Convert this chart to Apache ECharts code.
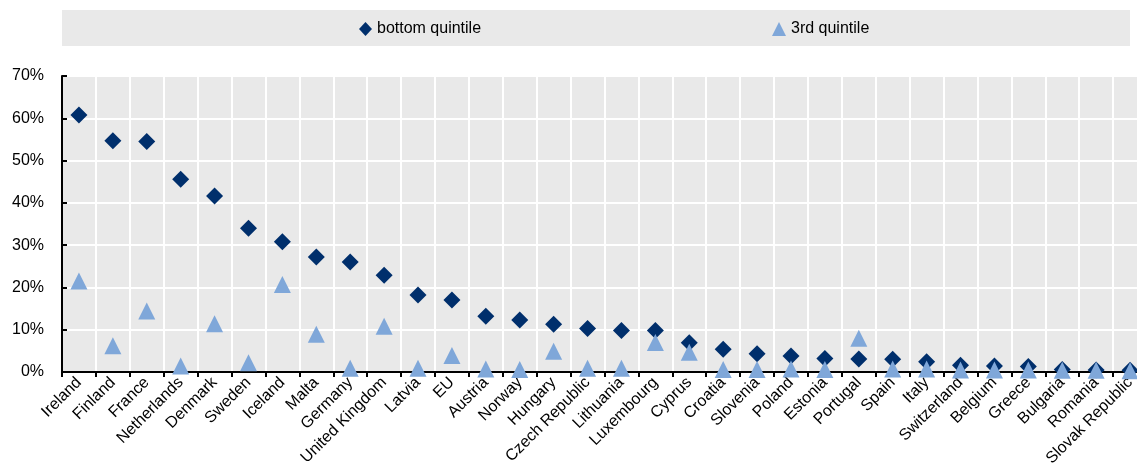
<!DOCTYPE html>
<html>
<head>
<meta charset="utf-8">
<script src="https://cdn.jsdelivr.net/npm/echarts@6/dist/echarts.min.js"></script>
<style>html,body{margin:0;padding:0;background:#fff;}#c{width:1137px;height:470px;}</style>
</head>
<body>
<div id="c"></div>
<script>
const categories = ["Ireland","Finland","France","Netherlands","Denmark","Sweden","Iceland","Malta","Germany","United Kingdom","Latvia","EU","Austria","Norway","Hungary","Czech Republic","Lithuania","Luxembourg","Cyprus","Croatia","Slovenia","Poland","Estonia","Portugal","Spain","Italy","Switzerland","Belgium","Greece","Bulgaria","Romania","Slovak Republic"];
const bottomQuintile = [60.8,54.7,54.5,45.6,41.6,34.0,30.8,27.2,26.0,22.9,18.2,17.0,13.2,12.3,11.3,10.3,9.8,9.8,6.9,5.4,4.3,3.8,3.2,3.1,3.0,2.4,1.6,1.4,1.3,0.6,0.5,0.4];
const thirdQuintile = [21.5,6.2,14.4,1.4,11.4,2.2,20.7,8.9,0.9,10.8,0.9,3.9,0.7,0.6,4.9,0.9,0.9,7.0,4.7,0.6,0.6,0.7,0.6,8.0,0.7,0.7,0.5,0.5,0.5,0.4,0.4,0.3];
const yTicks = {min:0, max:70, interval:10};
const seriesNames = ["bottom quintile","3rd quintile"];

const chart = echarts.init(document.getElementById('c'));
const font = '"Liberation Sans", Arial, sans-serif';
chart.setOption({
  animation:false,
  graphic:[{type:'rect', left:62, top:10, shape:{width:1068,height:36}, style:{fill:'#E9E9E9'}, silent:true, z:-1}],
  legend:[
    {data:[{name:seriesNames[0], icon:'diamond'}], left:354, top:16, itemWidth:13, itemHeight:14, itemGap:3,
     textStyle:{fontFamily:font, fontSize:16, color:'#000'}},
    {data:[{name:seriesNames[1], icon:'triangle'}], left:767, top:16, itemWidth:14, itemHeight:14, itemGap:3,
     textStyle:{fontFamily:font, fontSize:16, color:'#000'}}
  ],
  grid:{left:62, top:76, width:1085, bottom:98, show:true, backgroundColor:'#E9E9E9', borderWidth:0, containLabel:false, outerBoundsMode:'none'},
  xAxis:{type:'category', data:categories, boundaryGap:true,
    axisLine:{lineStyle:{color:'#000', width:2}},
    axisTick:{show:true, interval:0, length:5, lineStyle:{color:'#000', width:2}},
    splitLine:{show:true, interval:0, lineStyle:{color:'#fff', width:2}},
    axisLabel:{interval:0, rotate:45, fontFamily:font, fontSize:16, color:'#000', margin:8}
  },
  yAxis:{type:'value', min:yTicks.min, max:yTicks.max, interval:yTicks.interval,
    axisLine:{show:true, lineStyle:{color:'#000', width:2}},
    axisTick:{show:true, inside:true, length:5, lineStyle:{color:'#000', width:2}},
    splitLine:{show:true, lineStyle:{color:'#fff', width:2}},
    axisLabel:{formatter:'{value}%', fontFamily:font, fontSize:16, color:'#000', margin:18}
  },
  series:[
    {name:seriesNames[0], type:'scatter', data:bottomQuintile, symbol:'diamond', symbolSize:[17,17],
     itemStyle:{color:'#002F6C', opacity:1}},
    {name:seriesNames[1], type:'scatter', data:thirdQuintile, symbol:'triangle', symbolSize:[17,17],
     itemStyle:{color:'#7FA7D9', opacity:1}}
  ]
});
</script>
</body>
</html>
